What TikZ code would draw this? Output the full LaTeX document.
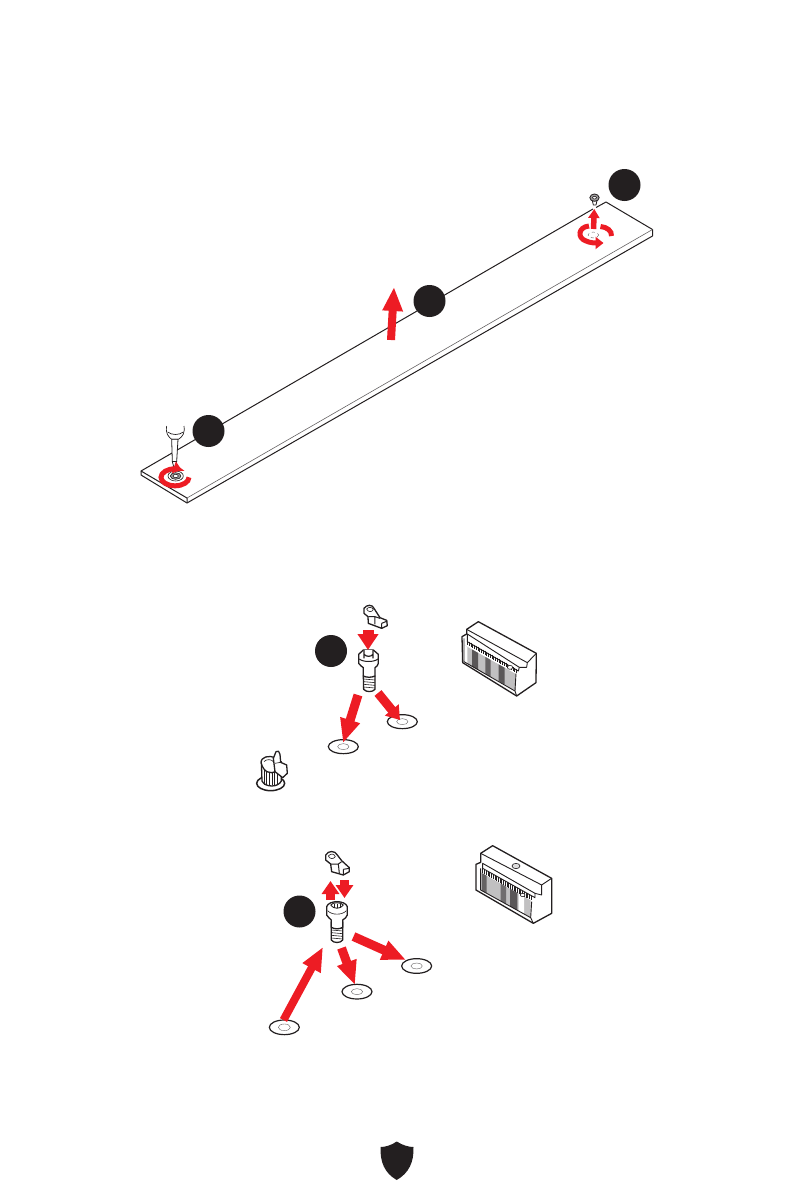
\documentclass[tikz,border=0pt]{standalone}
\usetikzlibrary{arrows.meta}
\definecolor{msired}{HTML}{ED1C24}
\definecolor{ink}{HTML}{231F20}
\tikzset{
  badge/.style={fill=ink,draw=none},
  redarr/.style={draw=msired,line width=#1,line cap=butt},
  redarr/.default=8pt,
  longtip/.style={-{Triangle[length=24pt,width=19pt,color=msired]}},
  bigtip/.style={-{Triangle[length=16pt,width=20pt,color=msired]}},
  midtip/.style={-{Triangle[length=13pt,width=17pt,color=msired]}},
  smalltip/.style={-{Triangle[length=9pt,width=11pt,color=msired]}},
  turntip/.style={-{Triangle[length=8pt,width=12pt,color=msired]}},
  turn/.style={draw=msired,line width=5pt},
  edge/.style={draw=ink,line width=1pt,line join=round},
  part/.style={draw=ink,fill=white,line width=1.3pt,line join=round},
  partthin/.style={draw=ink,line width=0.6pt,line join=round},
  ring/.style={draw=ink,fill=white,line width=1.2pt},
  ringin/.style={draw=ink!70,line width=0.4pt},
  zoomA/.style={shift={(#1)},x=0.3333pt,y=-0.3333pt}
}
\newcommand\bayfill[6]{% x from, x to, shade, y at x0, x0, height
  \fill[ink!#3] (#1,{#4+(#1-#5)*0.56}) -- (#2,{#4+(#2-#5)*0.56}) -- (#2,{#4+#6+(#2-#5)*0.56}) -- (#1,{#4+#6+(#1-#5)*0.56}) -- cycle;}
\begin{document}
\begin{tikzpicture}[x=1pt,y=-1pt]
\useasboundingbox (0,0) rectangle (794,1191);
% ---------- board ----------
\draw[edge] (593,209) -- (141,471) -- (141,475) -- (187,503) -- (652.5,236) -- (652.5,229.5) -- (606,202) -- (596,207.5);
\draw[edge] (141,471) -- (187,498) -- (187,503);
\draw[partthin,draw=ink!70] (187,498) -- (652.5,229.5);
% badges
\fill[badge] (624.5,185) circle (16);
\fill[badge] (429.5,301) circle (16);
\fill[badge] (208.5,431) circle (16);
\fill[badge] (331,651) circle (16);
\fill[badge] (299.5,911.5) circle (16);
% centre arrow
\draw[redarr,longtip] (391,340) -- (394,287);
% ---------- left screw + screwdriver ----------
\begin{scope}[zoomA={130,400}]
  \draw[partthin,fill=white,line width=0.7pt] (110,78) .. controls (106,100) and (115,110) .. (125,118) -- (145,118) .. controls (158,110) and (165,100) .. (162,78);
  \draw[partthin,line width=0.7pt] (113,96) .. controls (125,106) and (148,106) .. (160,96);
  \draw[part,line width=0.8pt] (125,118) -- (127,185) -- (133,207) -- (140,185) -- (144,118) -- cycle;
  \draw[partthin] (127,185) -- (140,185);
  \draw[partthin,fill=white] (137,228) ellipse (23 and 15);
  \draw[partthin,fill=ink!45] (137,228) ellipse (16 and 10);
  \draw[partthin,fill=white] (137,228) ellipse (8 and 5);
\end{scope}
\draw[turn,turntip] (189,477.3) arc[start angle=0,end angle=298,x radius=14,y radius=8.5];
% ---------- right screw ----------
\begin{scope}[zoomA={560,160}]
  \draw[partthin,line width=0.8pt,fill=white] (97,122) -- (100,135) -- (108,135) -- (111,122) -- cycle;
  \draw[partthin,line width=0.8pt,fill=ink!45] (103.5,113) ellipse (14 and 11);
  \draw[partthin,fill=white] (103.5,113) ellipse (6 and 4);
  \draw[ringin,dashed] (100,225) ellipse (16 and 9);
\end{scope}
\draw[turn] (600.5,226.5) .. controls (607,227) and (612,231) .. (611.5,236);
\draw[turn,turntip] (589,226) .. controls (578,227) and (577,238) .. (586,241) .. controls (590,243) and (596,243) .. (603.5,243);
\draw[redarr=5.5pt,smalltip] (593.5,229) -- (594.3,209);
% ---------- section 2 ----------
\begin{scope}[zoomA={240,595}]
  % clip
  \draw[part] (372,40) .. controls (380,28) and (398,28) .. (402,40) -- (420,68) -- (440,76) -- (442,92) -- (425,100) -- (385,85) -- (384,65) -- (372,55) -- cycle;
  \draw[partthin] (380,42) .. controls (386,35) and (396,35) .. (400,44) .. controls (396,52) and (384,52) .. (380,42);
  \draw[partthin,line width=1pt] (385,65) -- (405,65) -- (420,70) (405,65) -- (405,88) (425,85) -- (425,100) (425,85) -- (442,78);
  % standoff
  \draw[part] (370,243) -- (371,283) .. controls (378,292) and (398,292) .. (405,283) -- (405,243) -- cycle;
  \foreach \y in {252,260,268,276} \draw[partthin] (371,\y) -- (405,\y+3);
  \draw[part] (356,178) -- (356,205) .. controls (360,212) and (366,214) .. (370,218) -- (370,243) .. controls (380,248) and (395,248) .. (405,243) -- (405,218) .. controls (410,214) and (414,212) .. (415,205) -- (415,178) -- (400,165) -- (370,165) -- cycle;
  \draw[partthin,line width=1pt] (358,192) .. controls (370,202) and (402,202) .. (414,192);
  \fill[white] (376,165) rectangle (396,178);
  \draw[partthin,line width=1.2pt] (372,168) -- (372,190) (399,168) -- (399,190) (372,178) .. controls (380,186) and (392,186) .. (399,178);
  % rings
  \draw[ring] (310,455) ellipse (45 and 21);
  \draw[ringin] (310,455) ellipse (17 and 9);
  \draw[ring] (487,380) ellipse (45 and 21);
  \draw[ringin] (487,380) ellipse (17 and 9);
  % assembled standoff
  \draw[ring,line width=1.5pt] (92,565) ellipse (42 and 22);
  \draw[part] (64,500) -- (66,558) .. controls (75,578) and (115,578) .. (124,558) -- (124,500) -- cycle;
  \foreach \x in {72,80,88,96,104,112} \draw[partthin,line width=1pt] (\x,525) -- (\x,570);
  \draw[part] (64,505) .. controls (60,485) and (88,480) .. (106,488) -- (108,500) -- (108,528) .. controls (90,540) and (70,530) .. (64,505) -- cycle;
  \draw[partthin] (72,500) .. controls (78,492) and (95,492) .. (100,500);
  \draw[part] (100,490) -- (108,470) .. controls (112,464) and (120,470) .. (120,478) -- (122,502) -- (140,510) -- (142,535) -- (128,548) -- (105,530) -- cycle;
  \draw[partthin] (105,505) -- (122,502);
\end{scope}
\draw[redarr=11pt,bigtip] (368,630) -- (368,650);
\draw[redarr=9pt,longtip] (358,695) -- (343,743);
\draw[redarr=9pt,midtip] (378,693) -- (400,720);
% connector 1
\begin{scope}[zoomA={450,610}]
  \draw[part] (85,35) -- (50,58) -- (50,72) -- (36,80) -- (38,158) -- (200,258) -- (258,218) -- (259,130) -- cycle;
  \bayfill{42}{196}{28}{105}{42}{50}
  \bayfill{66}{84}{75}{105}{42}{50}
  \bayfill{106}{122}{70}{105}{42}{50}
  \bayfill{146}{164}{75}{105}{42}{50}
  \bayfill{42}{52}{0}{105}{42}{50}
  \draw[partthin,line width=0.9pt] (52,72) -- (52,95) -- (205,183) -- (208,172) -- cycle;
  \draw[partthin,line width=0.9pt] (50,58) -- (232,158) -- (259,130) (232,158) -- (230,172) -- (208,172);
  \foreach \t in {0,0.035,...,1}{
    \draw[partthin,line width=0.5pt] ({52+\t*150},{92+\t*86}) -- ({52+\t*150},{106+\t*86});}
  \draw[partthin,line width=0.9pt] (42,85) -- (42,155) -- (195,243);
  \draw[partthin,line width=0.9pt] (198,190) -- (195,243) -- (200,258);
  \draw[partthin,fill=white] (180,172) ellipse (8 and 6);
\end{scope}
% ---------- section 3 ----------
\begin{scope}[zoomA={260,840}]
  % clip
  \draw[part] (197,45) .. controls (205,31) and (225,31) .. (232,45) -- (245,62) -- (268,83) -- (268,95) -- (250,105) -- (215,95) -- (212,72) -- (197,60) -- cycle;
  \draw[partthin] (205,48) .. controls (212,40) and (222,40) .. (226,50) .. controls (220,58) and (210,58) .. (205,48);
  \draw[partthin,line width=1pt] (212,72) -- (235,72) -- (245,65) (235,72) -- (238,100) (250,88) -- (250,105) (250,88) -- (268,85);
  % standoff
  \draw[part] (214,245) -- (214,300) .. controls (220,310) and (242,310) .. (248,300) -- (248,245) -- cycle;
  \foreach \y in {262,270,278,286,294} \draw[partthin] (214,\y) -- (248,\y+3);
  \draw[part] (200,200) -- (200,225) .. controls (204,232) and (210,236) .. (214,240) -- (214,262) .. controls (224,268) and (238,268) .. (248,262) -- (248,240) .. controls (254,236) and (260,232) .. (262,225) -- (262,200) .. controls (256,180) and (206,180) .. (200,200) -- cycle;
  \draw[partthin] (203,212) .. controls (215,226) and (247,226) .. (259,212);
  \draw[partthin,line width=0.9pt] (212,195) .. controls (220,208) and (242,208) .. (250,195) .. controls (242,186) and (220,186) .. (212,195);
  \foreach \x in {222,231,240} \draw[partthin] (\x,192) -- (\x,204);
  % rings
  \draw[ring] (73,562) ellipse (45 and 22);
  \draw[ringin] (73,562) ellipse (18 and 10);
  \draw[ring] (291,455) ellipse (45 and 22);
  \draw[ringin] (291,455) ellipse (17 and 9);
  \draw[ring] (470,378) ellipse (45 and 22);
  \draw[ringin] (470,378) ellipse (17 and 9);
\end{scope}
\draw[redarr=9pt,midtip] (330.5,900) -- (330.5,881);
\draw[redarr=9pt,midtip] (344.5,880) -- (344.5,898);
\draw[redarr=8pt,longtip] (283.5,1020) -- (323,947);
\draw[redarr=9pt,longtip] (341.5,948) -- (355,985);
\draw[redarr=9pt,longtip] (353.5,936.5) -- (406,960);
% connector 2
\begin{scope}[zoomA={460,835}]
  \draw[part] (98,32) -- (62,55) -- (62,82) -- (48,88) -- (48,165) -- (220,265) -- (275,235) -- (275,130) -- cycle;
  \bayfill{62}{212}{28}{112}{62}{52}
  \bayfill{66}{80}{70}{112}{62}{52}
  \bayfill{122}{138}{65}{112}{62}{52}
  \bayfill{150}{172}{75}{112}{62}{52}
  \bayfill{176}{192}{0}{112}{62}{52}
  \draw[partthin,line width=0.9pt] (68,85) -- (68,100) -- (225,188) -- (225,175) -- cycle;
  \draw[partthin,line width=0.9pt] (62,55) -- (245,150) -- (275,130) (245,150) -- (245,180) -- (225,175);
  \foreach \t in {0,0.035,...,1}{
    \draw[partthin,line width=0.5pt] ({68+\t*148},{100+\t*84}) -- ({68+\t*148},{114+\t*84});}
  \draw[partthin,line width=0.9pt] (62,100) -- (62,165) -- (212,248) (215,200) -- (212,248) -- (220,265);
  \draw[partthin,fill=ink!15] (168,93) ellipse (12 and 8);
  \draw[partthin,fill=white] (188,180) ellipse (7 and 5);
\end{scope}
% ---------- shield ----------
\fill[ink] (396.7,1141.5) .. controls (403,1145.5) and (409,1147) .. (413.5,1147) .. controls (414,1162) and (409,1173) .. (396.7,1180) .. controls (384.5,1173) and (380,1162) .. (380.5,1147) .. controls (385,1147) and (391,1145.5) .. (396.7,1141.5) -- cycle;
\end{tikzpicture}
\end{document}
